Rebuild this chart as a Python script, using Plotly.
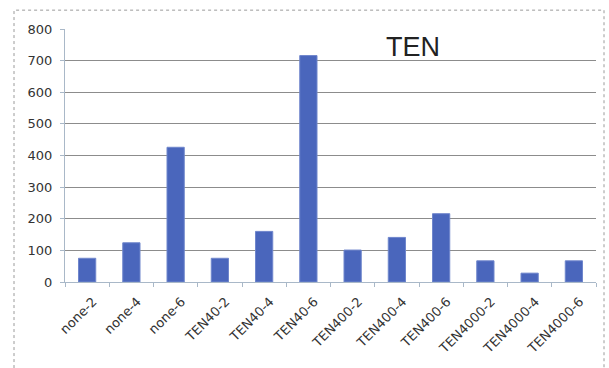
import plotly.graph_objects as go

# Samples and measured values
categories = ["none-2", "none-4", "none-6",
              "TEN40-2", "TEN40-4", "TEN40-6",
              "TEN400-2", "TEN400-4", "TEN400-6",
              "TEN4000-2", "TEN4000-4", "TEN4000-6"]
values = [75, 124, 426, 75, 160, 716, 101, 141, 216, 67, 28, 67]
y_ticks = [0, 100, 200, 300, 400, 500, 600, 700, 800]
chart_title = "TEN"

W, H = 609, 368
L, R, T, B = 65, 13, 29, 84

fig = go.Figure(
    go.Bar(
        x=categories,
        y=values,
        marker=dict(color="#4a66bc", line=dict(color="#6f86cc", width=1)),
        width=0.39,
    )
)

# outer chart border (paper coordinates extend beyond the plot area)
pw, ph = W - L - R, H - T - B
def px_x(p):
    return (p - L) / pw
def px_y(p):
    return (H - B - p) / ph

fig.add_shape(
    type="rect", xref="paper", yref="paper",
    x0=px_x(14), x1=px_x(604), y0=px_y(380), y1=px_y(10),
    line=dict(color="#9a9a9a", width=1, dash="dot"),
    fillcolor="rgba(0,0,0,0)", layer="below",
)

fig.add_annotation(
    text=chart_title, xref="paper", yref="paper",
    x=px_x(413), y=px_y(47), xanchor="center", yanchor="middle",
    showarrow=False,
    font=dict(family="Liberation Sans", size=27, color="#222222"),
)

fig.update_layout(
    width=W, height=H,
    margin=dict(l=L, r=R, t=T, b=B),
    paper_bgcolor="white", plot_bgcolor="white",
    showlegend=False,
    bargap=0.6,
    font=dict(family="DejaVu Sans", color="#333333"),
)

fig.update_yaxes(
    range=[0, 800], tickvals=y_ticks,
    showgrid=True, gridcolor="#8c8c8c", gridwidth=1,
    zeroline=False,
    showline=True, linecolor="#a9b8c8", linewidth=1,
    ticks="outside", ticklen=4, tickcolor="#a9b8c8",
    tickfont=dict(size=13, color="#333333"),
    ticklabelstandoff=5,
)

fig.update_xaxes(
    showgrid=False,
    showline=True, linecolor="#a9b8c8", linewidth=1,
    ticks="outside", ticklen=4, tickcolor="#a9b8c8",
    tickson="boundaries",
    tickangle=-45,
    tickfont=dict(size=13, color="#333333"),
    ticklabelstandoff=6,
    ticklabelshift=6,
)

fig.write_html("out.html")
